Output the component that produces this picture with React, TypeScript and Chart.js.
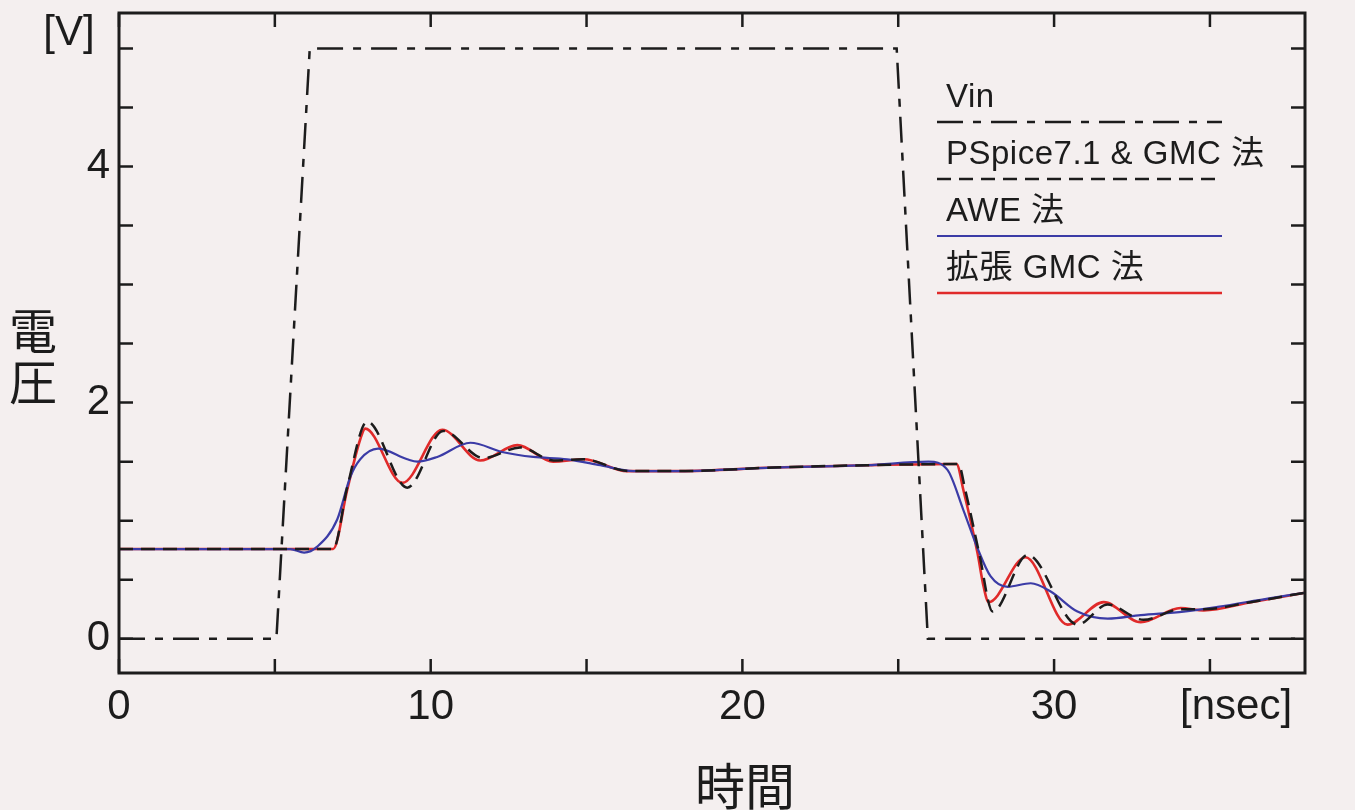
import React, { useEffect, useRef } from "react";
import { Chart, registerables } from "chart.js";

Chart.register(...registerables);

// ---- data (time in ns, voltage in V) ----
const vinTime = [0, 5.05, 6.12, 24.95, 25.95, 38.05];
const vinVolt = [0, 0, 5, 5, 0, 0];

const pspiceTime = [0, 6.87, 7.32, 7.96, 9.25, 10.4, 11.69, 12.87, 13.95, 14.9, 16.35, 18, 21, 24, 26.93, 27.15, 27.6, 28.03, 29.15, 30.75, 31.72, 32.87, 34.06, 34.8, 36.3, 38.05];
const pspiceVolt = [0.76, 0.76, 1.28, 1.84, 1.28, 1.76, 1.53, 1.62, 1.51, 1.52, 1.42, 1.42, 1.45, 1.47, 1.48, 1.26, 0.72, 0.23, 0.71, 0.12, 0.29, 0.16, 0.25, 0.25, 0.31, 0.39];

const aweTime = [0, 5.49, 5.94, 6.36, 7.0, 7.42, 7.74, 8.31, 9.25, 9.57, 10.21, 11.27, 12.33, 13.29, 14.38, 15.44, 16.5, 18, 21, 24, 25.97, 26.58, 27.09, 27.54, 27.96, 28.51, 29.25, 29.89, 30.75, 31.72, 32.78, 34.16, 35.25, 36.85, 38.05];
const aweVolt = [0.76, 0.76, 0.73, 0.78, 1.01, 1.37, 1.52, 1.61, 1.52, 1.5, 1.54, 1.66, 1.58, 1.54, 1.52, 1.47, 1.42, 1.42, 1.45, 1.47, 1.5, 1.43, 1.09, 0.77, 0.53, 0.44, 0.47, 0.4, 0.23, 0.17, 0.2, 0.23, 0.27, 0.34, 0.39];

const gmcTime = [0, 6.87, 7.32, 7.74, 7.9, 9.09, 10.37, 11.59, 12.78, 13.93, 14.9, 16.31, 18, 21, 24, 26.87, 27.09, 27.54, 27.74, 27.9, 29.08, 30.43, 31.59, 32.78, 34.06, 34.8, 36.31, 38.05];
const gmcVolt = [0.76, 0.76, 1.26, 1.69, 1.78, 1.32, 1.77, 1.51, 1.64, 1.5, 1.52, 1.42, 1.42, 1.45, 1.47, 1.48, 1.26, 0.73, 0.44, 0.31, 0.69, 0.12, 0.31, 0.14, 0.26, 0.24, 0.31, 0.39];

const seriesLabels = ["Vin", "PSpice7.1 & GMC 法", "AWE 法", "拡張 GMC 法"];

const xTickValues = [0, 5, 10, 15, 20, 25, 30, 35];
const xLabelValues = [0, 10, 20, 30];
const yTickValues = [0, 0.5, 1, 1.5, 2, 2.5, 3, 3.5, 4, 4.5, 5];
const yLabelValues = [0, 2, 4];

const xUnit = "[nsec]";
const yUnit = "[V]";
const xTitle = "時間";
const yTitleChars = ["電", "圧"];

const X_MIN = 0;
const X_MAX = 38.05;
const Y_MIN = -0.29;
const Y_MAX = 5.3;

const INK = "#1c1c1c";
const LATIN = '"Liberation Sans", Arial, sans-serif';
const MIXED = '"Liberation Sans", "Noto Sans CJK JP", sans-serif';
const CJK = '"Noto Sans CJK JP", sans-serif';

const toPoints = (t: number[], v: number[]) => t.map((x, i) => ({ x, y: v[i] }));

const decorPlugin = {
  id: "decor",
  afterDraw(chart: any) {
    const { ctx, chartArea, scales } = chart;
    const { left, right, top, bottom } = chartArea;
    const xs = scales.x;
    const ys = scales.y;
    ctx.save();
    ctx.strokeStyle = INK;
    ctx.fillStyle = INK;
    // frame
    ctx.lineWidth = 3;
    ctx.setLineDash([]);
    ctx.strokeRect(left, top, right - left, bottom - top);
    // inward ticks
    ctx.lineWidth = 2.5;
    const tl = 14;
    ctx.beginPath();
    xTickValues.forEach((v) => {
      const px = xs.getPixelForValue(v);
      ctx.moveTo(px, bottom);
      ctx.lineTo(px, bottom - tl);
      ctx.moveTo(px, top);
      ctx.lineTo(px, top + tl);
    });
    yTickValues.forEach((v) => {
      const py = ys.getPixelForValue(v);
      ctx.moveTo(left, py);
      ctx.lineTo(left + tl, py);
      ctx.moveTo(right, py);
      ctx.lineTo(right - tl, py);
    });
    ctx.stroke();

    // units
    ctx.font = `42px ${LATIN}`;
    ctx.textBaseline = "middle";
    ctx.textAlign = "left";
    ctx.fillText(xUnit, right - 125, bottom + 34);
    ctx.textAlign = "center";
    ctx.fillText(yUnit, left - 50, top + 20);

    // axis titles
    ctx.font = `48px ${CJK}`;
    yTitleChars.forEach((c, i) => {
      ctx.fillText(c, 33, 331 + i * 51);
    });
    ctx.font = `50px ${CJK}`;
    ctx.fillText(xTitle, 745, 786);

    // legend
    ctx.font = `33px ${MIXED}`;
    (ctx as any).letterSpacing = "0.5px";
    ctx.textAlign = "left";
    ctx.textBaseline = "alphabetic";
    const lx0 = right - 368;
    const lx1 = right - 83;
    chart.data.datasets.forEach((ds: any, i: number) => {
      const baseY = top + 94 + i * 57;
      ctx.fillStyle = INK;
      ctx.fillText(ds.label, lx0 + 9, baseY);
      ctx.beginPath();
      ctx.strokeStyle = ds.borderColor;
      ctx.lineWidth = ds.borderWidth;
      ctx.setLineDash(ds.borderDash || []);
      ctx.moveTo(lx0, baseY + 15);
      ctx.lineTo(lx1, baseY + 15);
      ctx.stroke();
    });
    ctx.restore();
  },
};

export default function App() {
  const canvasRef = useRef<HTMLCanvasElement | null>(null);

  useEffect(() => {
    if (!canvasRef.current) return;
    const chart = new Chart(canvasRef.current, {
      type: "line",
      data: {
        datasets: [
          {
            label: seriesLabels[0],
            data: toPoints(vinTime, vinVolt),
            borderColor: INK,
            borderWidth: 2.5,
            borderDash: [26, 10, 8, 10],
            tension: 0,
            pointRadius: 0,
          },
          {
            label: seriesLabels[1],
            data: toPoints(pspiceTime, pspiceVolt),
            borderColor: INK,
            borderWidth: 2.5,
            borderDash: [14, 8],
            cubicInterpolationMode: "monotone",
            pointRadius: 0,
          },
          {
            label: seriesLabels[2],
            data: toPoints(aweTime, aweVolt),
            borderColor: "#3b3ba6",
            borderWidth: 2.2,
            cubicInterpolationMode: "monotone",
            pointRadius: 0,
          },
          {
            label: seriesLabels[3],
            data: toPoints(gmcTime, gmcVolt),
            borderColor: "#e02a2a",
            borderWidth: 2.6,
            cubicInterpolationMode: "monotone",
            pointRadius: 0,
          },
        ] as any,
      },
      options: {
        responsive: false,
        animation: false,
        events: [],
        layout: { padding: { top: 13, right: 50, left: 0, bottom: 0 } },
        plugins: {
          legend: { display: false },
          tooltip: { enabled: false },
          title: { display: false },
        },
        scales: {
          x: {
            type: "linear",
            min: X_MIN,
            max: X_MAX,
            grid: { display: false, drawTicks: false },
            border: { display: false },
            afterBuildTicks: (scale: any) => {
              scale.ticks = xTickValues.map((value) => ({ value }));
            },
            afterFit: (scale: any) => {
              scale.height = 137;
              scale.paddingLeft = 0;
              scale.paddingRight = 0;
            },
            ticks: {
              autoSkip: false,
              maxRotation: 0,
              padding: 9,
              color: INK,
              font: { family: LATIN, size: 42 },
              callback: (v: any) => (xLabelValues.includes(Number(v)) ? String(v) : ""),
            },
          },
          y: {
            type: "linear",
            min: Y_MIN,
            max: Y_MAX,
            grid: { display: false, drawTicks: false },
            border: { display: false },
            afterBuildTicks: (scale: any) => {
              scale.ticks = yTickValues.map((value) => ({ value }));
            },
            afterFit: (scale: any) => {
              scale.width = 119;
              scale.paddingTop = 0;
              scale.paddingBottom = 0;
            },
            ticks: {
              autoSkip: false,
              padding: 9,
              color: INK,
              font: { family: LATIN, size: 42 },
              callback: (v: any) => (yLabelValues.includes(Number(v)) ? String(v) : ""),
            },
          },
        },
      } as any,
      plugins: [decorPlugin],
    });
    return () => chart.destroy();
  }, []);

  return (
    <div
      style={{
        position: "fixed",
        left: 0,
        top: 0,
        width: 1355,
        height: 810,
        background: "#f4efef",
        overflow: "hidden",
      }}
    >
      <canvas ref={canvasRef} width={1355} height={810} style={{ display: "block" }} />
    </div>
  );
}
